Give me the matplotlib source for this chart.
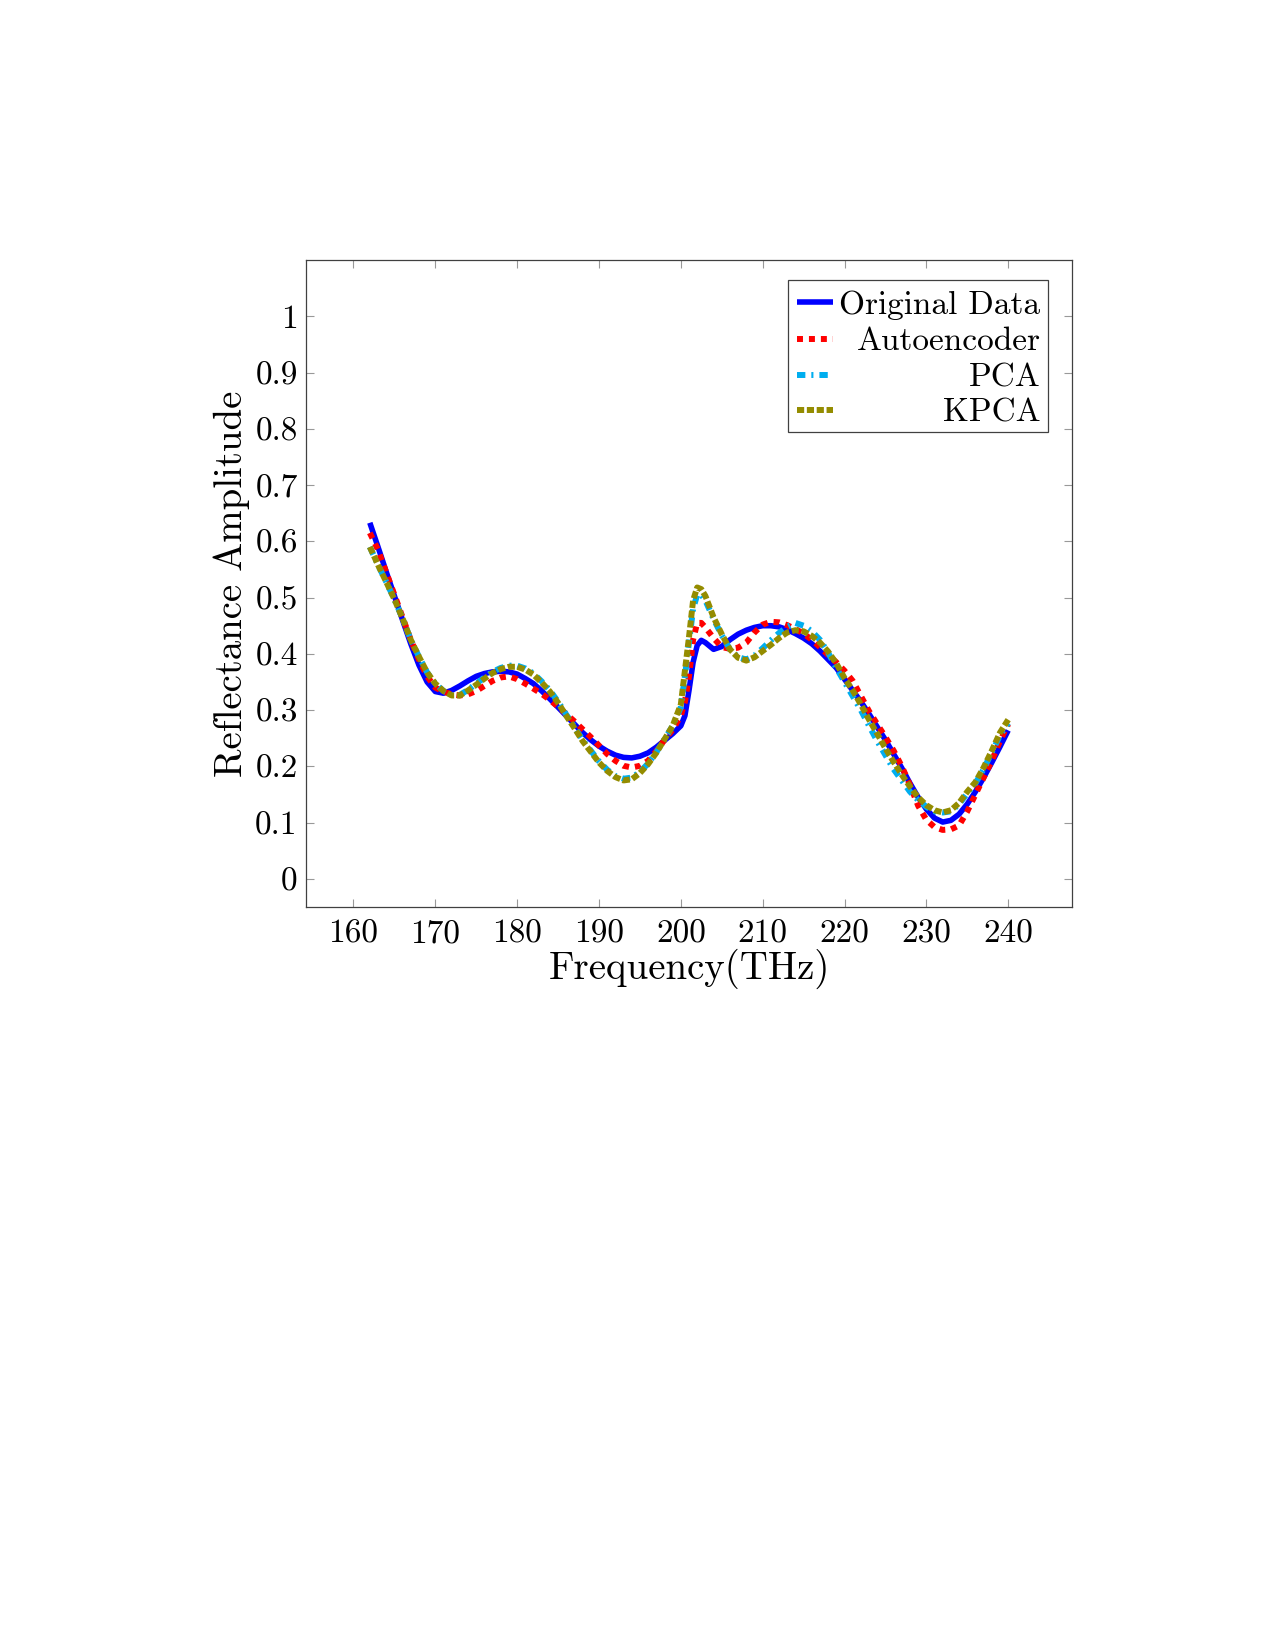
import matplotlib
matplotlib.use("Agg")
import matplotlib.pyplot as plt
from matplotlib.lines import Line2D
from matplotlib.patches import Rectangle
import numpy as np

plt.rcParams['font.family'] = ['cmr10', 'DejaVu Serif']
plt.rcParams['mathtext.fontset'] = 'cm'
plt.rcParams['axes.formatter.use_mathtext'] = True

# frequency grid (THz), finer around the 200-204 THz spike
freq = [162, 163, 164, 165, 166, 167, 168, 169, 170, 171, 172, 173, 174, 175,
        176, 177, 178, 179, 180, 181, 182, 183, 184, 185, 186, 187, 188, 189,
        190, 191, 192, 193, 194, 195, 196, 197, 198, 199, 200, 200.5, 201,
        201.5, 202, 202.5, 203, 204, 205, 206, 207, 208, 209, 210, 211, 212,
        213, 214, 215, 216, 217, 218, 219, 220, 221, 222, 223, 224, 225, 226,
        227, 228, 229, 230, 231, 232, 233, 234, 235, 236, 237, 238, 239, 240]

original = [0.633, 0.590, 0.546, 0.503, 0.460, 0.418, 0.380, 0.350, 0.333, 0.330,
            0.335, 0.343, 0.352, 0.360, 0.365, 0.368, 0.369, 0.368, 0.364, 0.356,
            0.347, 0.334, 0.320, 0.305, 0.290, 0.275, 0.260, 0.247, 0.236, 0.227,
            0.220, 0.216, 0.215, 0.218, 0.224, 0.234, 0.246, 0.258, 0.272, 0.290,
            0.335, 0.385, 0.415, 0.424, 0.420, 0.408, 0.413, 0.425, 0.435, 0.442,
            0.447, 0.450, 0.450, 0.448, 0.443, 0.436, 0.428, 0.418, 0.405, 0.390,
            0.375, 0.355, 0.335, 0.315, 0.293, 0.270, 0.247, 0.222, 0.197, 0.170,
            0.145, 0.124, 0.108, 0.101, 0.104, 0.115, 0.133, 0.155, 0.180, 0.207,
            0.235, 0.264]

autoencoder = [0.615, 0.585, 0.545, 0.505, 0.465, 0.425, 0.390, 0.360, 0.340, 0.333,
               0.328, 0.326, 0.328, 0.334, 0.343, 0.352, 0.358, 0.360, 0.355, 0.347,
               0.338, 0.329, 0.318, 0.306, 0.293, 0.280, 0.266, 0.252, 0.237, 0.222,
               0.210, 0.201, 0.198, 0.201, 0.210, 0.227, 0.247, 0.265, 0.290, 0.315,
               0.360, 0.425, 0.455, 0.455, 0.447, 0.428, 0.412, 0.409, 0.411, 0.420,
               0.438, 0.452, 0.457, 0.456, 0.451, 0.444, 0.436, 0.425, 0.412, 0.398,
               0.385, 0.370, 0.352, 0.325, 0.298, 0.275, 0.252, 0.228, 0.200, 0.167,
               0.130, 0.105, 0.092, 0.087, 0.088, 0.095, 0.120, 0.150, 0.180, 0.210,
               0.245, 0.275]

pca = [0.590, 0.558, 0.528, 0.497, 0.463, 0.425, 0.395, 0.367, 0.347, 0.334,
       0.327, 0.327, 0.336, 0.347, 0.358, 0.368, 0.375, 0.379, 0.379, 0.374,
       0.365, 0.351, 0.335, 0.315, 0.292, 0.270, 0.247, 0.228, 0.209, 0.194,
       0.183, 0.178, 0.180, 0.190, 0.205, 0.225, 0.248, 0.272, 0.305, 0.360,
       0.420, 0.480, 0.505, 0.505, 0.495, 0.462, 0.433, 0.408, 0.394, 0.390,
       0.397, 0.410, 0.424, 0.437, 0.448, 0.455, 0.450, 0.440, 0.425, 0.402,
       0.375, 0.350, 0.325, 0.300, 0.272, 0.245, 0.220, 0.195, 0.175, 0.155,
       0.140, 0.128, 0.120, 0.118, 0.120, 0.133, 0.152, 0.170, 0.195, 0.225,
       0.255, 0.277]

kpca = [0.590, 0.558, 0.528, 0.497, 0.463, 0.425, 0.395, 0.367, 0.347, 0.334,
        0.326, 0.326, 0.335, 0.345, 0.356, 0.366, 0.373, 0.377, 0.377, 0.372,
        0.363, 0.349, 0.333, 0.313, 0.290, 0.268, 0.245, 0.226, 0.207, 0.192,
        0.181, 0.175, 0.177, 0.188, 0.204, 0.224, 0.248, 0.272, 0.310, 0.370,
        0.430, 0.495, 0.518, 0.515, 0.503, 0.465, 0.435, 0.408, 0.393, 0.388,
        0.394, 0.405, 0.416, 0.428, 0.438, 0.442, 0.440, 0.432, 0.420, 0.404,
        0.383, 0.357, 0.335, 0.310, 0.283, 0.258, 0.232, 0.208, 0.185, 0.164,
        0.145, 0.131, 0.122, 0.118, 0.122, 0.135, 0.155, 0.172, 0.198, 0.228,
        0.260, 0.283]

labels = ['Original Data', 'Autoencoder', 'PCA', 'KPCA']
colors = ['#0000ff', '#ff0000', '#00aeef', '#948c00']
styles = ['-', (0, (1, 1)), (0, (1.4, 1.0, 0.35, 1.0)), (0, (1.2, 0.45))]
widths = [4.0, 4.3, 4.3, 4.3]

fig = plt.figure(figsize=(12.75, 16.5), dpi=100)
ax = fig.add_axes([0.240, 0.4503, 0.6008, 0.3921])

for ys, lab, c, ls, lw in zip([original, autoencoder, pca, kpca], labels, colors, styles, widths):
    ax.plot(freq, ys, color=c, linestyle=ls, linewidth=lw, label=lab,
            solid_capstyle='butt', dash_capstyle='butt')

ax.set_xlim(154.2, 247.8)
ax.set_ylim(-0.05, 1.1)
xt = np.arange(160, 241, 10)
yt = np.round(np.arange(0, 1.01, 0.1), 1)
ax.set_xticks(xt)
ax.set_xticklabels([str(v) for v in xt])
ax.set_yticks(yt)
ax.set_yticklabels(['%g' % v for v in yt])
ax.tick_params(direction='in', top=True, right=True, length=6, width=0.8,
               color='0.6', labelsize=24)
ax.tick_params(axis='x', pad=9)
ax.tick_params(axis='y', pad=6)
for s in ax.spines.values():
    s.set_color('0.25')
    s.set_linewidth(0.9)

ax.set_xlabel('Frequency(THz)', fontsize=28, labelpad=0)
ax.set_ylabel('Reflectance Amplitude', fontsize=28, labelpad=4)

# legend drawn by hand so the labels are right aligned like pgfplots
ax.add_patch(Rectangle((0.629, 0.734), 0.340, 0.235, transform=ax.transAxes,
                       facecolor='white', edgecolor='0.25', linewidth=0.9, zorder=5))
rows = [0.935, 0.878, 0.822, 0.768]
for yr, lab, c, ls, lw in zip(rows, labels, colors, styles, widths):
    ax.add_line(Line2D([0.641, 0.688], [yr, yr], transform=ax.transAxes, color=c,
                       linestyle=ls, linewidth=lw, zorder=6,
                       solid_capstyle='butt', dash_capstyle='butt'))
    ax.text(0.959, yr, lab, transform=ax.transAxes, ha='right', va='center_baseline',
            fontsize=24, zorder=6)

fig.savefig('out.png', dpi=100)
